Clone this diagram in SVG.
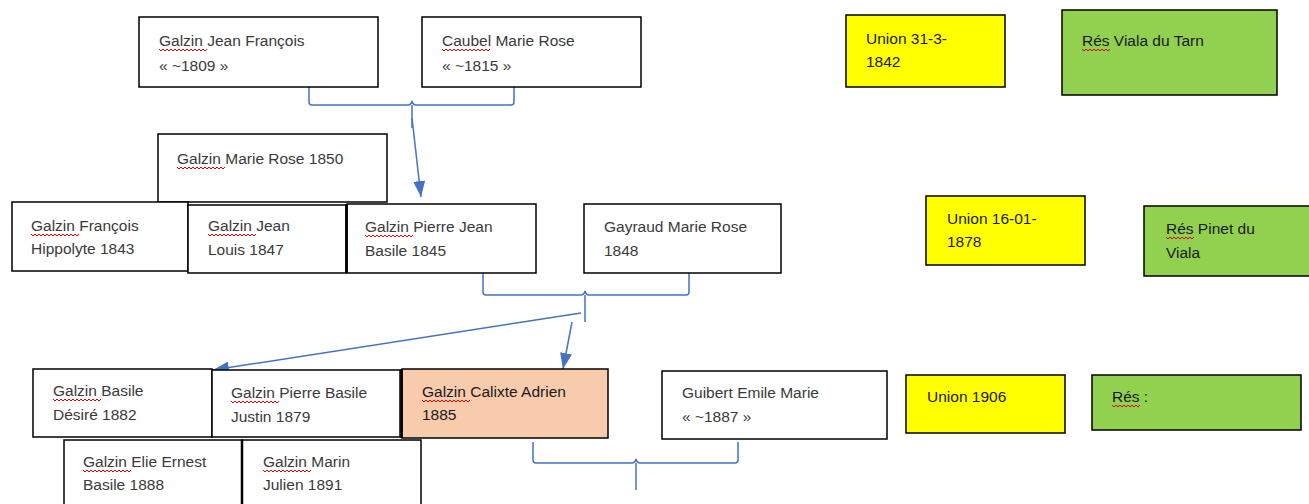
<svg xmlns="http://www.w3.org/2000/svg" width="1309" height="504" viewBox="0 0 1309 504">
<style>
.b{fill:#fff;stroke:#000;stroke-width:1.5}
.y{fill:#ffff00;stroke:#000;stroke-width:1.5}
.g{fill:#92d050;stroke:#000;stroke-width:1.5}
.p{fill:#f8cbad;stroke:#000;stroke-width:1.5}
.t{font-family:"Liberation Sans",Arial,sans-serif;font-size:15.5px;fill:#3a3a3a}
.td{font-family:"Liberation Sans",Arial,sans-serif;font-size:15.5px;fill:#1a1a1a}
.c{fill:none;stroke:#4472c4;stroke-width:1.5}
.sq{fill:none;stroke:#e00000;stroke-width:1}
</style>
<defs>
<marker id="ah" viewBox="0 0 16 12" refX="16" refY="6" markerWidth="16" markerHeight="12" markerUnits="userSpaceOnUse" orient="auto">
<path d="M0,0 L16,6 L0,12 z" fill="#4472c4"/>
</marker>
<path id="sqg" d="M0,0 l2,2 l2,-2 l2,2 l2,-2 l2,2 l2,-2 l2,2 l2,-2 l2,2 l2,-2 l2,2 l2,-2 l2,2 l2,-2 l2,2 l2,-2 l2,2 l2,-2 l2,2 l2,-2 l2,2 l2,-2 l2,2 l2,-2" class="sq"/>
<path id="sqr" d="M0,0 l2,2 l2,-2 l2,2 l2,-2 l2,2 l2,-2 l2,2 l2,-2 l2,2 l2,-2 l2,2 l2,-2 l2,2 l2,-2" class="sq"/>
</defs>

<g id="connectors">
<path class="c" d="M309,87 V102 Q309,105 312,105 H408 Q411,105 412,101 Q413,105 416,105 H511 Q514,105 514,102 V87"/>
<path class="c" d="M412,105 V128" />
<line class="c" x1="412" y1="118" x2="421" y2="197" marker-end="url(#ah)"/>
<path class="c" d="M483,273 V292 Q483,295 486,295 H581 Q584,295 585,291 Q586,295 589,295 H686 Q689,295 689,292 V273"/>
<path class="c" d="M585,295 V322"/>
<line class="c" x1="581" y1="313" x2="213" y2="370" marker-end="url(#ah)"/>
<line class="c" x1="572" y1="322" x2="563" y2="369" marker-end="url(#ah)"/>
<path class="c" d="M533,442 V460 Q533,463 536,463 H632 Q635,463 636,459 Q637,463 640,463 H735 Q738,463 738,460 V442"/>
<path class="c" d="M636,463 V490"/>
</g>

<g id="n1"><rect class="b" x="139" y="17" width="239" height="70"/>
<text class="t" x="159" y="46">Galzin Jean François</text><text class="t" x="159" y="71">« ~1809 »</text>
<use href="#sqg" x="159" y="49"/></g>
<g id="n2"><rect class="b" x="422" y="17" width="219" height="70"/>
<text class="t" x="442" y="46">Caubel Marie Rose</text><text class="t" x="442" y="71">« ~1815 »</text>
<use href="#sqg" x="442" y="49"/></g>
<g id="u1"><rect class="y" x="846" y="15" width="159" height="72"/>
<text class="td" x="866" y="44">Union 31-3-</text><text class="td" x="866" y="67">1842</text></g>
<g id="r1"><rect class="g" x="1062" y="10" width="215" height="85"/>
<text class="td" x="1082" y="46">Rés Viala du Tarn</text>
<use href="#sqr" x="1082" y="49"/></g>

<g id="n3"><rect class="b" x="158" y="134" width="229" height="68"/>
<text class="t" x="177" y="164">Galzin Marie Rose 1850</text>
<use href="#sqg" x="177" y="167"/></g>
<g id="n4"><rect class="b" x="12" y="202" width="176" height="69"/>
<text class="t" x="31" y="231">Galzin François</text><text class="t" x="31" y="254">Hippolyte 1843</text>
<use href="#sqg" x="31" y="234"/></g>
<g id="n5"><rect class="b" x="188" y="205" width="158" height="68"/>
<text class="t" x="208" y="231">Galzin Jean</text><text class="t" x="208" y="255">Louis 1847</text>
<use href="#sqg" x="208" y="234"/></g>
<g id="n6"><rect class="b" x="347" y="204" width="189" height="69"/>
<line x1="346.5" y1="204" x2="346.5" y2="273" stroke="#000" stroke-width="2.5"/>
<text class="t" x="365" y="232">Galzin Pierre Jean</text><text class="t" x="365" y="256">Basile 1845</text>
<use href="#sqg" x="365" y="235"/></g>
<g id="n7"><rect class="b" x="584" y="204" width="197" height="69"/>
<text class="t" x="604" y="232">Gayraud Marie Rose</text><text class="t" x="604" y="256">1848</text></g>
<g id="u2"><rect class="y" x="926" y="196" width="159" height="69"/>
<text class="td" x="947" y="224">Union 16-01-</text><text class="td" x="947" y="247">1878</text></g>
<g id="r2"><rect class="g" x="1144" y="206" width="168" height="70"/>
<text class="td" x="1166" y="234">Rés Pinet du</text><text class="td" x="1166" y="258">Viala</text>
<use href="#sqr" x="1166" y="237"/></g>

<g id="n8"><rect class="b" x="33" y="369" width="179" height="68"/>
<text class="t" x="53" y="396">Galzin Basile</text><text class="t" x="53" y="420">Désiré 1882</text>
<use href="#sqg" x="53" y="399"/></g>
<g id="n9"><rect class="b" x="212" y="370" width="188" height="67"/>
<text class="t" x="231" y="398">Galzin Pierre Basile</text><text class="t" x="231" y="422">Justin 1879</text>
<use href="#sqg" x="231" y="401"/></g>
<g id="n10"><rect class="p" x="402" y="369" width="206" height="69"/>
<line x1="401.5" y1="369" x2="401.5" y2="438" stroke="#000" stroke-width="2.5"/>
<text class="td" x="422" y="397">Galzin Calixte Adrien</text><text class="td" x="422" y="420">1885</text>
<use href="#sqg" x="422" y="400"/></g>
<g id="n11"><rect class="b" x="662" y="371" width="225" height="68"/>
<text class="t" x="682" y="398">Guibert Emile Marie</text><text class="t" x="682" y="422">« ~1887 »</text></g>
<g id="u3"><rect class="y" x="906" y="375" width="159" height="58"/>
<text class="td" x="927" y="402">Union 1906</text></g>
<g id="r3"><rect class="g" x="1092" y="375" width="209" height="55"/>
<text class="td" x="1112" y="402">Rés :</text>
<use href="#sqr" x="1112" y="405"/></g>
<g id="n12"><rect class="b" x="64" y="440" width="178" height="80"/>
<text class="t" x="83" y="467">Galzin Elie Ernest</text><text class="t" x="83" y="490">Basile 1888</text>
<use href="#sqg" x="83" y="470"/></g>
<g id="n13"><rect class="b" x="242" y="440" width="179" height="80"/>
<line x1="242" y1="440" x2="242" y2="504" stroke="#000" stroke-width="2.5"/>
<text class="t" x="263" y="467">Galzin Marin</text><text class="t" x="263" y="490">Julien 1891</text>
<use href="#sqg" x="263" y="470"/></g>
</svg>
